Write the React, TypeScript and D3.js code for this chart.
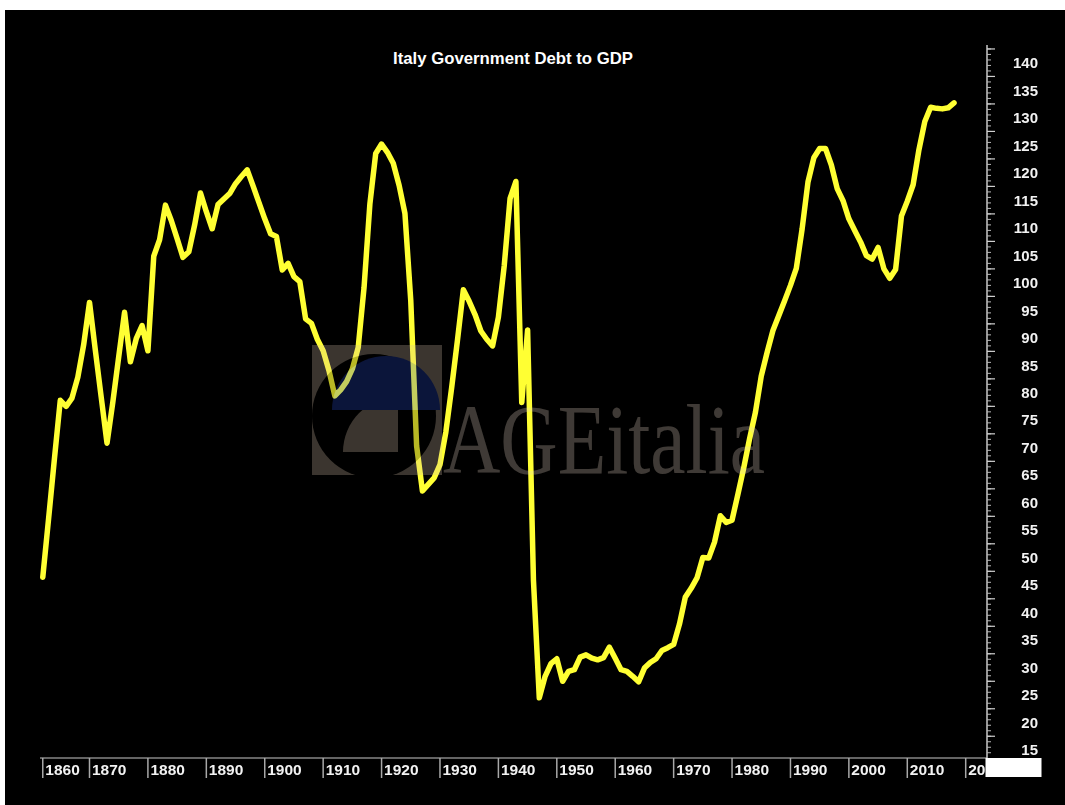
import React from 'react';
import * as d3 from 'd3';

// Italy government debt, % of GDP, one value per year (1862 - 2018)
const years = d3.range(1862, 2019);
const debt = [
  46.4, 57.1, 68.0, 78.6, 77.5, 79.0, 82.8, 88.7, // 1862-1869
  96.4, 87.7, 79.2, 70.8, 78.3, 86.5, 94.6, 85.6, 89.8, 92.2, // 1870s
  87.6, 104.8, 107.8, 114.1, 111.3, 108.0, 104.6, 105.6, 110.5, 116.3, // 1880s
  112.9, 109.8, 114.2, 115.2, 116.2, 118.0, 119.3, 120.5, 117.6, 114.6, // 1890s
  111.6, 108.9, 108.4, 102.3, 103.5, 101.1, 100.2, 93.4, 92.6, 89.7, // 1900s
  87.6, 84.0, 79.4, 80.5, 82.0, 84.3, 88.2, 99.1, 114.3, 123.5, // 1910s
  125.2, 123.7, 121.7, 117.7, 112.6, 96.7, 70.3, 62.1, 63.3, 64.5, // 1920s
  66.9, 72.8, 80.9, 89.6, 98.7, 96.6, 94.2, 91.2, 89.7, 88.5, // 1930s
  93.7, 103.1, 115.3, 118.4, 78.2, 91.4, 45.9, 24.5, 28.4, 30.7, // 1940s
  31.6, 27.5, 29.3, 29.6, 31.9, 32.3, 31.7, 31.4, 31.8, 33.7, // 1950s
  31.7, 29.6, 29.3, 28.4, 27.4, 29.9, 30.9, 31.6, 33.1, 33.6, // 1960s
  34.2, 37.9, 42.8, 44.4, 46.3, 50.0, 49.9, 52.8, 57.6, 56.4, // 1970s
  56.8, 61.5, 66.3, 71.6, 76.4, 83.0, 87.3, 91.3, 94.0, 96.7, // 1980s
  99.5, 102.6, 109.8, 118.3, 122.7, 124.4, 124.4, 121.4, 117.1, 114.9, // 1990s
  111.6, 109.5, 107.4, 104.9, 104.3, 106.4, 102.5, 100.8, 102.4, 112.1, // 2000s
  114.8, 117.8, 124.2, 129.3, 131.9, 131.7, 131.6, 131.8, 132.7, // 2010s
];

const decades = d3.range(1860, 2030, 10);
const yLabels = d3.range(15, 145, 5);
const title = 'Italy Government Debt to GDP';
const watermark = 'AGEitalia';

const W = 1065;
const H = 805;

export default function App() {
  const x = d3.scaleLinear().domain([1870, 2020]).range([89.5, 965.7]);
  const y = d3.scaleLinear().domain([15, 140]).range([750, 62.7]);

  const axisX = 987; // vertical value axis
  const axisY = 758; // horizontal time axis

  const line = d3
    .line<number>()
    .x((_, i) => x(years[i]))
    .y(d => y(d));

  const minorTicks = d3.range(13.5, 144, 1).filter(v => y(v) > 44 && y(v) < axisY);
  const majorTicks = yLabels.map(v => v + 2.5);

  const pie = d3.arc<any>();
  const wedge = pie({ innerRadius: 0, outerRadius: 55, startAngle: -Math.PI / 2, endAngle: 0 }) as string;
  const halfMoon = pie({ innerRadius: 0, outerRadius: 54, startAngle: -Math.PI / 2, endAngle: Math.PI / 2 }) as string;

  return (
    <div style={{ position: 'absolute', left: 0, top: 0 }}>
      <svg width={W} height={H} style={{ display: 'block' }}>
        <rect width={W} height={H} fill="#fff" />
        <rect x={5} y={10} width={W - 5} height={H - 10} fill="#000" />

        <text
          x={513}
          y={64}
          textAnchor="middle"
          fill="#fff"
          fontFamily="'Liberation Sans', Arial, sans-serif"
          fontWeight="bold"
          fontSize={16.5}
          textLength={240}
          lengthAdjust="spacingAndGlyphs"
        >
          {title}
        </text>

        <path
          d={line(debt) ?? ''}
          fill="none"
          stroke="#ffff33"
          strokeWidth={5.5}
          strokeLinejoin="round"
          strokeLinecap="round"
        />

        {/* watermark */}
        <g opacity={0.28}>
          <clipPath id="logoClip">
            <rect x={312} y={345} width={130} height={130} />
          </clipPath>
          <g clipPath="url(#logoClip)">
            <rect x={312} y={345} width={130} height={130} fill="#d4bfa8" />
            <circle cx={374} cy={416} r={62} fill="#000" />
            <path d={wedge} transform="translate(398,452)" fill="#d4bfa8" />
            <path d={halfMoon} transform="translate(386,410)" fill="#2a4bd0" />
          </g>
          <text
            x={443}
            y={473}
            fill="#e0d0c0"
            fontFamily="'Liberation Serif', 'Times New Roman', serif"
            fontSize={100}
            textLength={322}
            lengthAdjust="spacingAndGlyphs"
          >
            {watermark}
          </text>
        </g>

        {/* value axis on the right */}
        <line x1={axisX} x2={axisX} y1={45} y2={axisY} stroke="#c8c8c8" strokeWidth={1.5} />
        {minorTicks.map(v => (
          <line key={`mi${v}`} x1={axisX} x2={axisX + 4} y1={y(v)} y2={y(v)} stroke="#b8b8b8" strokeWidth={1} />
        ))}
        {majorTicks.map(v => (
          <line key={`ma${v}`} x1={axisX} x2={axisX + 8} y1={y(v)} y2={y(v)} stroke="#d0d0d0" strokeWidth={1.2} />
        ))}
        {yLabels.map(v => (
          <text
            key={`yl${v}`}
            x={1038}
            y={y(v)}
            dy="0.36em"
            textAnchor="end"
            fill="#f2f2f2"
            fontFamily="'Liberation Sans', Arial, sans-serif"
            fontWeight="bold"
            fontSize={15}
          >
            {v}
          </text>
        ))}

        {/* time axis */}
        <line x1={40} x2={axisX} y1={axisY} y2={axisY} stroke="#c8c8c8" strokeWidth={1.2} />
        {decades.map(d => {
          const px = x(Math.max(d, years[0]));
          return (
            <g key={`xd${d}`}>
              <line x1={px} x2={px} y1={axisY} y2={axisY + 20} stroke="#a8a8a8" strokeWidth={1.5} />
              <text
                x={px + 2.5}
                y={axisY + 17}
                fill="#f2f2f2"
                fontFamily="'Liberation Sans', Arial, sans-serif"
                fontWeight="bold"
                fontSize={15.5}
              >
                {d}
              </text>
            </g>
          );
        })}
        <rect x={axisX - 1.5} y={axisY} width={56} height={19} fill="#fff" />
      </svg>
    </div>
  );
}
